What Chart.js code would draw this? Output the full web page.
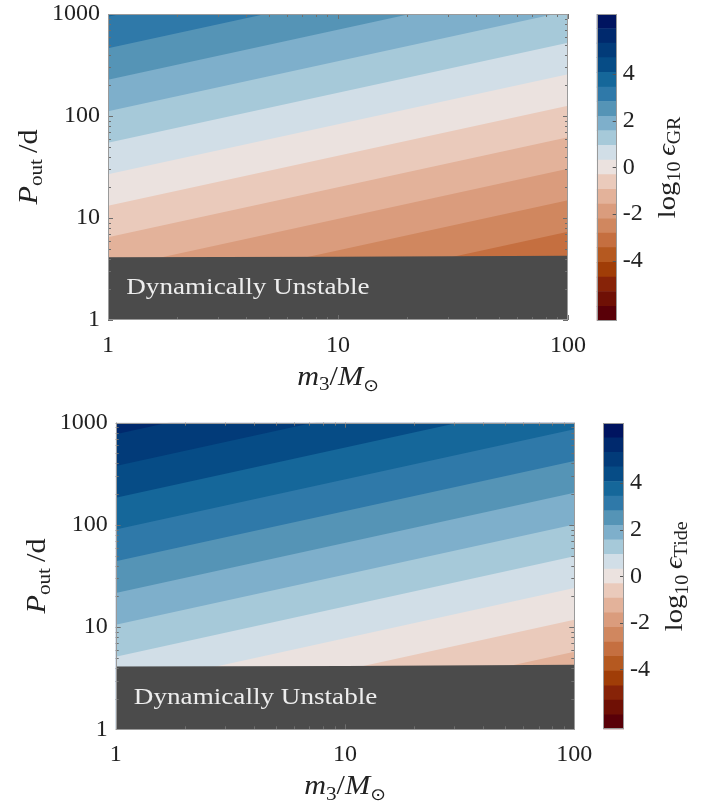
<!DOCTYPE html>
<html><head><meta charset="utf-8">
<script src="https://cdn.jsdelivr.net/npm/chart.js@4.4.0/dist/chart.umd.min.js"></script>
<style>
html,body{margin:0;padding:0;background:#fff;}
#wrap{position:relative;width:702px;height:805px;overflow:hidden;background:#fff}
canvas{position:absolute}
</style></head><body>
<div id="wrap">
<canvas id="grMain" width="702" height="400" style="left:0;top:0"></canvas>
<canvas id="grBar" width="142" height="400" style="left:560px;top:0"></canvas>
<canvas id="tdMain" width="702" height="405" style="left:0;top:400px"></canvas>
<canvas id="tdBar" width="142" height="405" style="left:560px;top:400px"></canvas>
</div>
<script>
// ---------- data ----------
const massTicks = [1, 10, 100];
const periodTicks = [1, 10, 100, 1000];
const colorbarTicks = [-4, -2, 0, 2, 4];
// contour level boundaries (log10 epsilon) of the colour bar
const colorbarLevels = [-6.57, -5.95, -5.32, -4.70, -4.07, -3.44, -2.82, -2.19, -1.57, -0.94, -0.31,
                         0.31, 0.94, 1.57, 2.19, 2.82, 3.44, 4.07, 4.70, 5.32, 5.95, 6.57];
const colorbarColors = ['#590008','#6f1005','#872308','#a03d07','#b55920','#c56f40','#d0875f',
  '#da9c7d','#e3b29a','#eacabb','#ebe2df','#d1dee7','#a6c9d9','#7eafcb','#5594b6','#2f79a9',
  '#15679a','#064c86','#023b79','#00296d','#001460'];
// band edge positions: P_out (d) of each contour boundary at m3 = 1 and m3 = 100
const edgeMass = [1, 100];
const grBandBelow = [3, 4, 5, 6, 7, 8, 9, 10, 11, 12, 13, 14, 15, 16];
const grPeriodAtM1   = [0.184, 0.375, 0.764, 1.556, 3.17, 6.46, 13.15, 26.8, 54.6, 111.2, 226.5, 461, 940, 1914];
const grPeriodAtM100 = [1.77, 3.60, 7.33, 14.9, 30.4, 61.9, 126, 257, 524, 1067, 2173, 4426, 9016, 18365];
const tideBandBelow = [6, 7, 8, 9, 10, 11, 12, 13, 14, 15, 16, 17, 18, 19];
const tidePeriodAtM1   = [0.143, 0.293, 0.600, 1.228, 2.51, 5.14, 10.52, 21.5, 44.1, 90.2, 184.5, 377.6, 772.7, 1581];
const tidePeriodAtM100 = [1.374, 2.81, 5.75, 11.78, 24.1, 49.3, 100.9, 206.5, 422.7, 865, 1770, 3622, 7413, 15171];
// dynamical stability limit
const unstableMass = [1, 10, 100];
const unstablePeriod = [4.12, 4.17, 4.27];
const unstableLabel = 'Dynamically Unstable';
const unstableLabelAt = {m: 1.2, p: 1.78};

// ---------- helpers ----------
const SERIF = '"Liberation Serif", "DejaVu Serif", serif';
const TEXT = '#222';
function drawMath(ctx, runs, size, cx, cy, rot, sx) {
  ctx.save();
  ctx.translate(cx, cy);
  if (rot) ctx.rotate(rot);
  ctx.scale(sx, 1);
  let total = 0;
  const items = runs.map(([t, it, s, dy, fam]) => {
    const f = (it ? 'italic ' : '') + (size * s) + 'px ' + (fam || SERIF);
    ctx.font = f;
    const w = ctx.measureText(t).width;
    total += w;
    return {t, f, w, dy: dy * size};
  });
  let x = -total / 2;
  ctx.textBaseline = 'alphabetic';
  ctx.textAlign = 'left';
  ctx.fillStyle = TEXT;
  items.forEach(i => { ctx.font = i.f; ctx.fillText(i.t, x, i.dy); x += i.w; });
  ctx.restore();
}
function minorTicks(dec) {
  const out = [];
  for (let i = 0; i < dec.length - 1; i++) for (let j = 2; j <= 9; j++) out.push(dec[i] * j);
  return out;
}
function noOverflow(s) { s.paddingTop = 0; s.paddingBottom = 0; s.paddingLeft = 0; s.paddingRight = 0; }

const frameAndTicks = {
  id: 'frameAndTicks',
  afterDatasetsDraw(chart) {
    const {ctx, chartArea: a, scales: {x, y}} = chart;
    ctx.save();
    // annotation
    const lx = x.getPixelForValue(unstableLabelAt.m), ly = y.getPixelForValue(unstableLabelAt.p);
    ctx.save();
    ctx.translate(lx, ly); ctx.scale(1.18, 1);
    ctx.font = '23px ' + SERIF; ctx.fillStyle = '#ededed';
    ctx.textBaseline = 'alphabetic'; ctx.textAlign = 'left';
    ctx.fillText(unstableLabel, 0, 0);
    ctx.restore();
    // ticks inside
    ctx.strokeStyle = '#6e6e6e'; ctx.lineWidth = 1;
    ctx.beginPath();
    const xt = (v, L) => { const p = Math.round(x.getPixelForValue(v)) + 0.5;
      ctx.moveTo(p, a.bottom); ctx.lineTo(p, a.bottom - L); ctx.moveTo(p, a.top); ctx.lineTo(p, a.top + L); };
    const yt = (v, L) => { const p = Math.round(y.getPixelForValue(v)) + 0.5;
      ctx.moveTo(a.left, p); ctx.lineTo(a.left + L, p); ctx.moveTo(a.right, p); ctx.lineTo(a.right - L, p); };
    massTicks.forEach(v => xt(v, 5)); minorTicks(massTicks).forEach(v => xt(v, 3));
    periodTicks.forEach(v => yt(v, 5)); minorTicks(periodTicks).forEach(v => yt(v, 3));
    ctx.stroke();
    ctx.strokeStyle = '#9a9a9a';
    ctx.strokeRect(Math.round(a.left) + 0.5, Math.round(a.top) + 0.5, Math.round(a.right - a.left) - 1, Math.round(a.bottom - a.top) - 1);
    ctx.restore();
  },
  afterDraw(chart) {
    const {ctx, chartArea: a} = chart;
    const midY = (a.top + a.bottom) / 2, midX = (a.left + a.right) / 2;
    drawMath(ctx, [['P', 1, 1, 0], ['out', 0, 0.7, 0.2], ['\u2009/d', 0, 1, 0]], 27, a.left - 71, midY, -Math.PI / 2, 1.12);
    drawMath(ctx, [['m', 1, 1, 0], ['3', 0, 0.7, 0.2], ['/', 0, 1, 0], ['M', 1, 1, 0], ['\u2299', 0, 0.62, 0.22, '"DejaVu Sans"']], 27, midX, a.bottom + 65, 0, 1.12);
  }
};

function contourChart(id, periodsM1, periodsM100, bandBelow, pad, yWidth, xHeight) {
  const datasets = [{
    data: unstableMass.map((m, i) => ({x: m, y: unstablePeriod[i]})),
    showLine: true, fill: 'start', backgroundColor: '#4b4b4b', borderColor: 'rgba(0,0,0,0)',
    borderWidth: 0, pointRadius: 0, tension: 0, clip: 0
  }];
  periodsM1.forEach((p, i) => {
    datasets.push({
      data: [{x: edgeMass[0], y: p}, {x: edgeMass[1], y: periodsM100[i]}],
      showLine: true, fill: 'start', backgroundColor: colorbarColors[bandBelow[i]],
      borderColor: 'rgba(0,0,0,0)', borderWidth: 0, pointRadius: 0, tension: 0, clip: 0
    });
  });
  return new Chart(document.getElementById(id), {
    type: 'scatter',
    data: {datasets},
    options: {
      responsive: false, animation: false, events: [],
      layout: {padding: pad},
      plugins: {legend: {display: false}, tooltip: {enabled: false}},
      scales: {
        x: {
          type: 'logarithmic', min: 1, max: 100,
          afterBuildTicks: s => { s.ticks = massTicks.map(v => ({value: v})); },
          afterFit: s => { s.height = xHeight; noOverflow(s); },
          ticks: {callback: v => String(v), font: {family: SERIF, size: 24}, color: TEXT, padding: 11, maxRotation: 0, autoSkip: false},
          grid: {display: false, drawTicks: false}, border: {display: false}
        },
        y: {
          type: 'logarithmic', min: 1, max: 1000,
          afterBuildTicks: s => { s.ticks = periodTicks.map(v => ({value: v})); },
          afterFit: s => { s.width = yWidth; noOverflow(s); },
          ticks: {callback: v => String(v), font: {family: SERIF, size: 24}, color: TEXT, padding: 8, autoSkip: false},
          grid: {display: false, drawTicks: false}, border: {display: false}
        }
      }
    },
    plugins: [frameAndTicks]
  });
}

function colorbarChart(id, sub, pad, yWidth) {
  const datasets = colorbarColors.map((c, i) => ({
    data: [[colorbarLevels[i], colorbarLevels[i + 1]]],
    backgroundColor: c, borderWidth: 0, barPercentage: 1, categoryPercentage: 1, grouped: false
  }));
  const cbDeco = {
    id: 'cbDeco',
    afterDatasetsDraw(chart) {
      const {ctx, chartArea: a, scales: {y}} = chart;
      ctx.save();
      ctx.strokeStyle = '#555'; ctx.lineWidth = 1; ctx.beginPath();
      colorbarTicks.forEach(v => { const p = Math.round(y.getPixelForValue(v)) + 0.5;
        ctx.moveTo(a.right, p); ctx.lineTo(a.right - 4, p); });
      ctx.stroke();
      ctx.strokeStyle = '#9a9a9a';
      ctx.strokeRect(Math.round(a.left) + 0.5, Math.round(a.top) + 0.5, Math.round(a.right - a.left) - 1, Math.round(a.bottom - a.top) - 1);
      ctx.restore();
    },
    afterDraw(chart) {
      const {ctx, chartArea: a} = chart;
      drawMath(ctx, [['log', 0, 1, 0], ['10', 0, 0.7, 0.22], ['\u2009', 0, 1, 0], ['\u03f5', 1, 1, 0], [sub, 0, 0.7, 0.2]],
        26, a.right + 58, (a.top + a.bottom) / 2, -Math.PI / 2, 1.1);
    }
  };
  return new Chart(document.getElementById(id), {
    type: 'bar',
    data: {labels: ['c'], datasets},
    options: {
      responsive: false, animation: false, events: [],
      layout: {padding: pad},
      plugins: {legend: {display: false}, tooltip: {enabled: false}},
      scales: {
        x: {display: false},
        y: {
          position: 'right', min: colorbarLevels[0], max: colorbarLevels[colorbarLevels.length - 1],
          afterBuildTicks: s => { s.ticks = colorbarTicks.map(v => ({value: v})); },
          afterFit: s => { s.width = yWidth; noOverflow(s); },
          ticks: {callback: v => String(v), font: {family: SERIF, size: 24}, color: TEXT, padding: 6},
          grid: {display: false, drawTicks: false}, border: {display: false}
        }
      }
    },
    plugins: [cbDeco]
  });
}

contourChart('grMain', grPeriodAtM1, grPeriodAtM100, grBandBelow, {top: 14, right: 134, left: 0, bottom: 0}, 108, 80);
colorbarChart('grBar', 'GR', {top: 14, left: 36.7, right: 0, bottom: 79.3}, 85.3);
contourChart('tdMain', tidePeriodAtM1, tidePeriodAtM100, tideBandBelow, {top: 22.7, right: 127.7, left: 0, bottom: 0}, 115.7, 75.7);
colorbarChart('tdBar', 'Tide', {top: 23.3, left: 43.3, right: 0, bottom: 75.7}, 78);
</script>
</body></html>
